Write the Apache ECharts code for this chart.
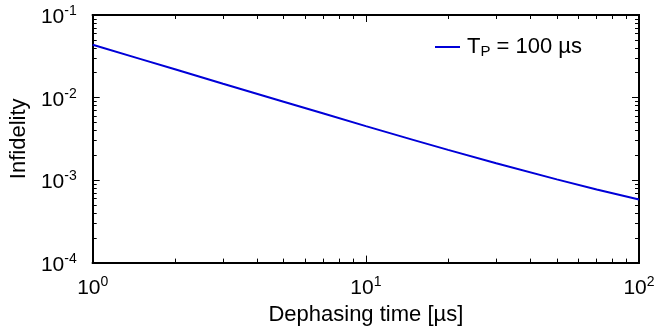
<!DOCTYPE html>
<html>
<head>
<meta charset="utf-8">
<script src="https://cdn.jsdelivr.net/npm/echarts@6/dist/echarts.min.js"></script>
<style>
html,body{margin:0;padding:0;background:#fff;}
#chart{width:658px;height:331px;}
</style>
</head>
<body>
<div id="chart"></div>
<script>
// Data
const dephasingTime = [1, 1.5, 2, 3, 5, 7, 10, 15, 20, 30, 50, 70, 100];
const infidelity = [0.0437, 0.0292, 0.0220, 0.0147, 0.0089, 0.0064, 0.0045, 0.00305, 0.00232, 0.00160, 0.00102, 0.00077, 0.00058];
const seriesName = 'T_P = 100 µs';

// Tick values
const xMajorTicks = [1, 10, 100];
const xMinorTicks = [2, 3, 4, 5, 6, 7, 8, 9, 20, 30, 40, 50, 60, 70, 80, 90];
const yMajorTicks = [0.0001, 0.001, 0.01, 0.1];
const yMinorTicks = [0.0002, 0.0003, 0.0004, 0.0005, 0.0006, 0.0007, 0.0008, 0.0009,
  0.002, 0.003, 0.004, 0.005, 0.006, 0.007, 0.008, 0.009,
  0.02, 0.03, 0.04, 0.05, 0.06, 0.07, 0.08, 0.09];

const FONT = 'Liberation Sans';
const rich = {
  b: {fontSize: 21, fontFamily: FONT, color: '#000'},
  s: {fontSize: 14, fontFamily: FONT, color: '#000', padding: [0, 0, 12, 0]}
};
function powLabel(v) {
  const e = Math.round(Math.log10(v));
  return '{b|10}{s|' + e + '}';
}
const lineStyle = {color: '#000', width: 2};

function makeAxis(pos, ticks, len, extra) {
  const ax = {
    type: 'log', logBase: 10,
    position: pos,
    axisLine: {show: true, onZero: false, lineStyle: lineStyle},
    axisTick: {show: true, inside: true, length: len, customValues: ticks,
      lineStyle: {color: '#000', width: 1}},
    axisLabel: {show: false},
    splitLine: {show: false},
    minorTick: {show: false}
  };
  return Object.assign(ax, extra);
}

const chart = echarts.init(document.getElementById('chart'));
chart.setOption({
  animation: false,
  backgroundColor: '#fff',
  grid: {left: 90, right: 19, top: 15, bottom: 67, containLabel: false},
  legend: {
    left: 430, top: 31,
    icon: 'rect',
    itemWidth: 25, itemHeight: 2, itemGap: 10,
    data: [seriesName],
    formatter: function () { return '{n|T}{sub|P}{n| = 100 µs}'; },
    textStyle: {
      padding: [0, 0, 0, 2],
      rich: {
        n: {fontSize: 22, fontFamily: FONT, color: '#000'},
        sub: {fontSize: 15, fontFamily: FONT, color: '#000', padding: [9, 0, 0, 0]}
      }
    }
  },
  xAxis: [
    makeAxis('bottom', xMajorTicks, 7, {
      min: 1, max: 100,
      name: 'Dephasing time [µs]', nameLocation: 'middle', nameGap: 37,
      nameTextStyle: {fontSize: 22, fontFamily: FONT, color: '#000'},
      axisLabel: {show: true, customValues: xMajorTicks, formatter: powLabel, rich: rich, margin: 13}
    }),
    makeAxis('bottom', xMinorTicks, 4, {min: 1, max: 100}),
    makeAxis('top', xMajorTicks, 7, {min: 1, max: 100}),
    makeAxis('top', xMinorTicks, 4, {min: 1, max: 100})
  ],
  yAxis: [
    makeAxis('left', yMajorTicks, 7, {
      min: 0.0001, max: 0.1,
      name: 'Infidelity', nameLocation: 'middle', nameGap: 62, nameRotate: 90,
      nameTextStyle: {fontSize: 22, fontFamily: FONT, color: '#000'},
      axisLabel: {show: true, customValues: yMajorTicks, formatter: powLabel, rich: rich, margin: 16,
        padding: [5, 0, 0, 0]}
    }),
    makeAxis('left', yMinorTicks, 4, {min: 0.0001, max: 0.1}),
    makeAxis('right', yMajorTicks, 7, {min: 0.0001, max: 0.1}),
    makeAxis('right', yMinorTicks, 4, {min: 0.0001, max: 0.1})
  ],
  series: [{
    name: seriesName,
    type: 'line',
    xAxisIndex: 0, yAxisIndex: 0,
    symbol: 'none',
    lineStyle: {color: '#0000d8', width: 2},
    itemStyle: {color: '#0000d8'},
    data: dephasingTime.map((x, i) => [x, infidelity[i]])
  }]
});
</script>
</body>
</html>
